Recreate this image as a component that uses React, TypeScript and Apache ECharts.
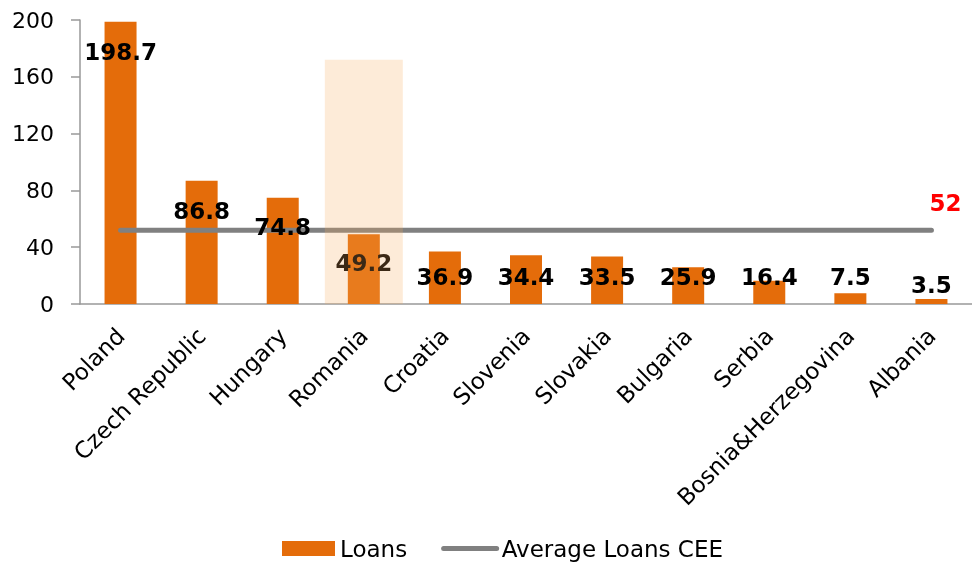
import React, { useEffect, useRef } from "react";
import * as echarts from "echarts";

const categories = ["Poland", "Czech Republic", "Hungary", "Romania", "Croatia", "Slovenia", "Slovakia", "Bulgaria", "Serbia", "Bosnia&Herzegovina", "Albania"];
const loans = [198.7, 86.8, 74.8, 49.2, 36.9, 34.4, 33.5, 25.9, 16.4, 7.5, 3.5];
const averageLoans = [52, 52, 52, 52, 52, 52, 52, 52, 52, 52, 52];
const highlight = [null, null, null, 172, null, null, null, null, null, null, null];
const yTicks = [0, 40, 80, 120, 160, 200];

// label vertical offsets (style only)
const labelDy = [14, 14, 12.5, 12.5, 9, 5.5, 4.5, -6.5, -20, -33, -30.5];

const FONT = "'DejaVu Sans', Verdana, sans-serif";
const ORANGE = "#E46C0A";

export default function App() {
  const ref = useRef<HTMLDivElement>(null);
  useEffect(() => {
    if (!ref.current) return;
    const chart = echarts.init(ref.current, null, { renderer: "svg" });
    chart.setOption({
      animation: false,
      textStyle: { fontFamily: FONT },
      grid: { left: 80, top: 20, bottom: 266, right: -4.5, containLabel: false },
      legend: {
        data: [
          { name: "Loans", icon: "rect" },
          {
            name: "Average Loans CEE",
            lineStyle: { width: 5, cap: "round", color: "#808080" },
            itemStyle: { color: "rgba(0,0,0,0)", borderWidth: 0, opacity: 0 },
          },
        ],
        left: 277,
        bottom: 5,
        itemWidth: 53,
        itemHeight: 15,
        itemGap: 34,
        textStyle: { fontFamily: FONT, fontSize: 23, color: "#000" },
      },
      xAxis: [
        {
          type: "category",
          data: categories,
          axisLine: { lineStyle: { color: "#999", width: 1.5 } },
          axisTick: { length: 8, lineStyle: { color: "#999", width: 1.5 } },
          axisLabel: { rotate: 45, margin: 28, fontSize: 23, color: "#000", fontFamily: FONT, interval: 0 },
        },
        {
          type: "category",
          data: categories,
          show: false,
        },
      ],
      yAxis: {
        type: "value",
        min: yTicks[0],
        max: yTicks[yTicks.length - 1],
        interval: 40,
        splitLine: { show: false },
        axisLine: { show: true, lineStyle: { color: "#999", width: 1.5 } },
        axisTick: { show: true, length: 9, lineStyle: { color: "#999", width: 1.5 } },
        axisLabel: { margin: 26, fontSize: 22, color: "#000", fontFamily: FONT },
      },
      series: [
        {
          name: "Loans",
          type: "bar",
          data: loans,
          barWidth: 32,
          z: 2,
          itemStyle: { color: ORANGE },
        },
        {
          name: "Average Loans CEE",
          type: "line",
          data: averageLoans,
          symbol: "none",
          z: 3,
          lineStyle: { color: "#808080", width: 5, cap: "round" },
          itemStyle: { color: "#808080" },
          endLabel: {
            show: true,
            formatter: "{c}",
            distance: 0,
            offset: [-2, -27],
            color: "#FF0000",
            fontWeight: "bold",
            fontSize: 23,
            fontFamily: FONT,
          },
        },
        {
          name: "labels",
          type: "bar",
          data: loans.map((v, i) => ({
            value: v,
            label: { offset: [0, labelDy[i]] },
          })),
          barWidth: 32,
          barGap: "-100%",
          z: 4,
          itemStyle: { color: "rgba(0,0,0,0)" },
          label: {
            show: true,
            position: "insideTop",
            color: "#000",
            fontWeight: "bold",
            fontSize: 23,
            fontFamily: FONT,
          },
          silent: true,
        },
        {
          name: "highlight",
          type: "bar",
          xAxisIndex: 1,
          data: highlight,
          barWidth: 78,
          z: 5,
          itemStyle: { color: "rgba(247,170,90,0.24)" },
          silent: true,
        },
      ],
    });
    return () => chart.dispose();
  }, []);
  return <div ref={ref} style={{ position: "fixed", left: 0, top: 0, width: 972, height: 570 }} />;
}
